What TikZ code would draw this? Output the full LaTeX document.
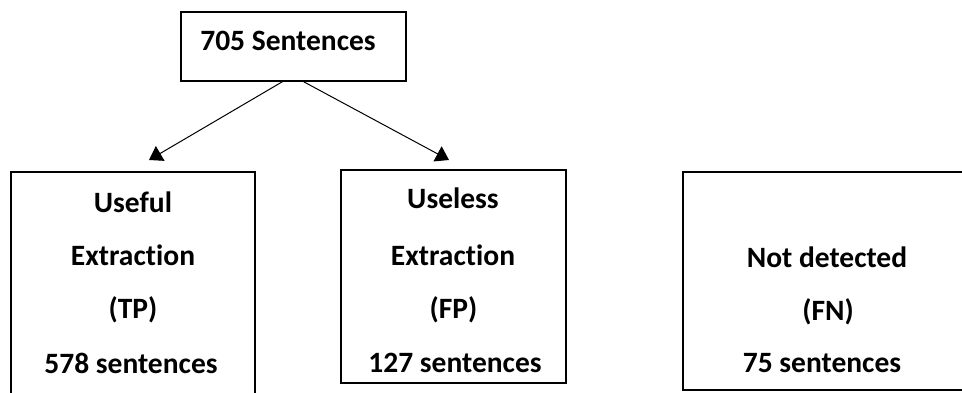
\documentclass[tikz,border=0pt]{standalone}
\usepackage{fontspec}
\setmainfont{Carlito}[Ligatures={NoCommon}]
\usetikzlibrary{arrows.meta}
\begin{document}
\begin{tikzpicture}[x=1pt,y=-1pt,
  box/.style={draw=black,line width=1.3pt,rectangle,inner sep=0pt},
  lbl/.style={anchor=base,inner sep=0pt,font=\fontsize{29.5}{35}\selectfont\bfseries},
  arr/.style={line width=1pt,-{Triangle[length=13pt,width=17pt]}}]
\clip (0,0) rectangle (962,392);
\fill[white] (0,0) rectangle (962,392);
% boxes
\node[box,minimum width=225pt,minimum height=69pt] (top) at (293.5,46.5) {};
\node[box,minimum width=244pt,minimum height=228pt] (left) at (133,286) {};
\node[box,minimum width=225pt,minimum height=213pt] (mid) at (453.5,276.5) {};
\node[box,minimum width=292pt,minimum height=218pt] (right) at (829,281) {};
% texts
\node[lbl] (t1) at (288,50) {705 Sentences};
\node[lbl] (l1) at (133,212) {Useful};
\node[lbl] (l2) at (133,265) {Extraction};
\node[lbl] (l3) at (133,318) {(TP)};
\node[lbl] (l4) at (131,373) {578 sentences};
\node[lbl] (m1) at (453,208) {Useless};
\node[lbl] (m2) at (453,265) {Extraction};
\node[lbl] (m3) at (453.5,318) {(FP)};
\node[lbl] (m4) at (455,372) {127 sentences};
\node[lbl] (r1) at (827,267) {Not detected};
\node[lbl] (r2) at (828,320) {(FN)};
\node[lbl] (r3) at (822,372) {75 sentences};
% arrows
\coordinate (aL) at (149,160);
\coordinate (aR) at (449,160);
\draw[arr] ([xshift=-11pt]top.south) -- (aL);
\draw[arr] ([xshift=10pt]top.south) -- (aR);
\end{tikzpicture}
\end{document}
